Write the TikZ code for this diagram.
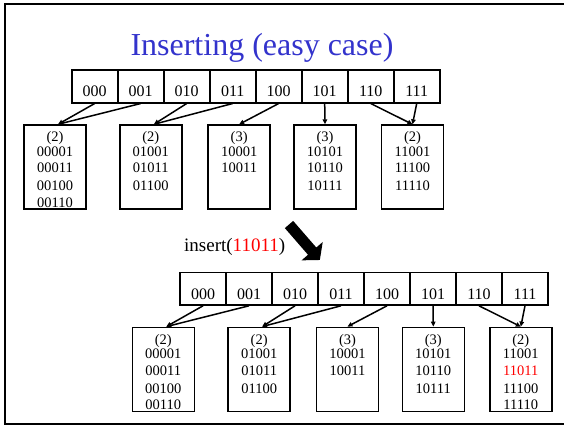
\documentclass[tikz,border=0pt]{standalone}
\usepackage{fontspec}
\setmainfont{Liberation Serif}
\usetikzlibrary{arrows.meta}
\definecolor{titleblue}{RGB}{51,51,204}
\definecolor{newkey}{RGB}{255,0,0}

% keys of a bucket: #1 bucket name, #2 local depth, #3 comma list of keys
\newcommand\keyrows[3]{%
  \node[btext] (#1-d) at ([yshift=-17.5pt]#1.north) {(#2)};
  \foreach \k [count=\j] in {#3}{%
    \pgfmathsetmacro\off{{32,48.5,66.5,83}[\j-1]}%
    \node[btext] (#1-\j) at ([yshift=-\off pt]#1.north) {\k};
  }%
}

\begin{document}
\begin{tikzpicture}[x=1pt,y=-1pt,
  cell/.style={draw, line width=1.6pt, minimum width=46pt, minimum height=32.7pt,
    inner sep=0pt, text height=21pt, text depth=0pt, font=\fontsize{16}{19}\selectfont},
  bucket/.style={draw, line width=1.6pt, minimum width=62pt, minimum height=84pt,
    inner sep=0pt, anchor=north},
  btext/.style={anchor=base, inner sep=0pt, font=\fontsize{14.5}{17}\selectfont},
  ptr/.style={line width=1.5pt, -{Triangle[length=5pt,width=4.5pt]}},
]
\useasboundingbox (0,0) rectangle (564,426);

% slide frame
\draw[line width=2pt] (564,4.3) -- (5.3,4.3) -- (5.3,424.3) -- (564,424.3);

% title
\node[font=\fontsize{32}{38}\selectfont, text=titleblue, anchor=base, inner sep=0pt]
  (title) at (262,55) {Inserting (easy case)};

% ---------- before the insertion ----------
\foreach \lab [count=\i from 0] in {000,001,010,011,100,101,110,111}
  \node[cell] (t\i) at (94.7+46*\i,86.35) {\lab};

\node[bucket] (tb1) at (55,124.3) {};
\node[bucket] (tb2) at (150.85,124.3) {};
\node[bucket] (tb3) at (239.15,124.3) {};
\node[bucket] (tb4) at (325,124.3) {};
\node[bucket] (tb5) at (412.5,124.3) {};

\keyrows{tb1}{2}{00001,00011,00100,00110}
\keyrows{tb2}{2}{01001,01011,01100}
\keyrows{tb3}{3}{10001,10011}
\keyrows{tb4}{3}{10101,10110,10111}
\keyrows{tb5}{2}{11001,11100,11110}

\draw[ptr] (t0.south) -- ([xshift=3pt]tb1.north);
\draw[ptr] (t1.south) -- ([xshift=3pt]tb1.north);
\draw[ptr] (t2.south) -- ([xshift=3pt]tb2.north);
\draw[ptr] (t3.south) -- ([xshift=3pt]tb2.north);
\draw[ptr] (t4.south) -- (tb3.north);
\draw[ptr] (t5.south) -- (tb4.north);
\draw[ptr] (t6.south) -- (tb5.north);
\draw[ptr] (t7.south) -- (tb5.north);

% ---------- insertion step ----------
\node[anchor=base west, inner sep=0pt, font=\fontsize{19}{23}\selectfont]
  (ins) at (184,251.7) {insert(\textcolor{newkey}{11011})};

\begin{scope}[shift={(289,224.5)}, rotate=-49]
  \fill (0,-5.5) -- (35.3,-5.5) -- (35.3,-14) -- (47,0) -- (35.3,14)
        -- (35.3,5.5) -- (0,5.5) -- cycle;
\end{scope}

% ---------- after the insertion ----------
\begin{scope}[shift={(108.3,202.3)}]
  \foreach \lab [count=\i from 0] in {000,001,010,011,100,101,110,111}
    \node[cell] (u\i) at (94.7+46*\i,86.35) {\lab};

  \node[bucket] (ub1) at (55,124.3) {};
  \node[bucket] (ub2) at (150.85,124.3) {};
  \node[bucket] (ub3) at (239.15,124.3) {};
  \node[bucket] (ub4) at (325,124.3) {};
  \node[bucket] (ub5) at (412.5,124.3) {};
\end{scope}

\keyrows{ub1}{2}{00001,00011,00100,00110}
\keyrows{ub2}{2}{01001,01011,01100}
\keyrows{ub3}{3}{10001,10011}
\keyrows{ub4}{3}{10101,10110,10111}
\keyrows{ub5}{2}{11001,\textcolor{newkey}{11011},11100,11110}

\draw[ptr] (u0.south) -- ([xshift=3pt]ub1.north);
\draw[ptr] (u1.south) -- ([xshift=3pt]ub1.north);
\draw[ptr] (u2.south) -- ([xshift=3pt]ub2.north);
\draw[ptr] (u3.south) -- ([xshift=3pt]ub2.north);
\draw[ptr] (u4.south) -- (ub3.north);
\draw[ptr] (u5.south) -- (ub4.north);
\draw[ptr] (u6.south) -- (ub5.north);
\draw[ptr] (u7.south) -- (ub5.north);
\end{tikzpicture}
\end{document}
